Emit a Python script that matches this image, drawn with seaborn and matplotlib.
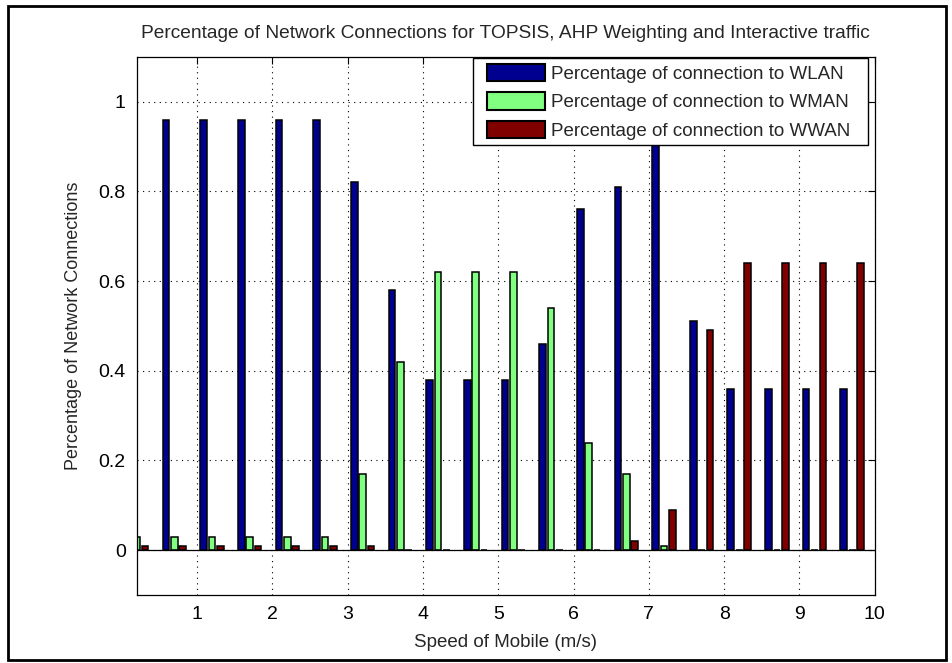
import matplotlib
matplotlib.use("Agg")
import matplotlib.pyplot as plt
from matplotlib.patches import Rectangle
from matplotlib.legend_handler import HandlerPatch
from matplotlib.ticker import FixedLocator, FuncFormatter
import pandas as pd
import seaborn as sns

# ---- data -------------------------------------------------------------
speed = [0.2, 0.7, 1.2, 1.7, 2.2, 2.7, 3.2, 3.7, 4.2, 4.7,
         5.2, 5.7, 6.2, 6.7, 7.2, 7.7, 8.2, 8.7, 9.2, 9.7]
wlan = [0.96, 0.96, 0.96, 0.96, 0.96, 0.96, 0.82, 0.58, 0.38, 0.38,
        0.38, 0.46, 0.76, 0.81, 0.93, 0.51, 0.36, 0.36, 0.36, 0.36]
wman = [0.03, 0.03, 0.03, 0.03, 0.03, 0.03, 0.17, 0.42, 0.62, 0.62,
        0.62, 0.54, 0.24, 0.17, 0.01, 0.0, 0.0, 0.0, 0.0, 0.0]
wwan = [0.01, 0.01, 0.01, 0.01, 0.01, 0.01, 0.01, 0.0, 0.0, 0.0,
        0.0, 0.0, 0.0, 0.02, 0.09, 0.49, 0.64, 0.64, 0.64, 0.64]

series_names = ["Percentage of connection to WLAN",
                "Percentage of connection to WMAN",
                "Percentage of connection to WWAN"]
series_colors = ["#000090", "#80FF80", "#800000"]

x_ticks = [1, 2, 3, 4, 5, 6, 7, 8, 9, 10]
y_ticks = [0, 0.2, 0.4, 0.6, 0.8, 1.0]

title = "Percentage of Network Connections for TOPSIS, AHP Weighting and Interactive traffic"
x_label = "Speed of Mobile (m/s)"
y_label = "Percentage of Network Connections"

# ---- long-form table --------------------------------------------------
df = pd.concat([
    pd.DataFrame({"speed": speed, "value": vals, "network": name})
    for name, vals in zip(series_names, [wlan, wman, wwan])
], ignore_index=True)

# ---- style ------------------------------------------------------------
sns.set_style("white")
plt.rcParams["font.family"] = ["Liberation Sans", "DejaVu Sans"]

fig = plt.figure(figsize=(9.53, 6.63), dpi=100)
fig.patch.set_facecolor("white")
ax = fig.add_axes([0.1435, 0.1026, 0.7744, 0.8115])

sns.barplot(data=df, x="speed", y="value", hue="network",
            hue_order=series_names, palette=series_colors,
            native_scale=True, width=0.667, gap=0.2,
            edgecolor="black", linewidth=1.1, saturation=1,
            errorbar=None, ax=ax)

# bar baseline
ax.axhline(0, color="black", lw=0.9, zorder=3)

ax.set_xlim(0.2, 10)
ax.set_ylim(-0.1, 1.1)
ax.xaxis.set_major_locator(FixedLocator(x_ticks))
ax.yaxis.set_major_locator(FixedLocator(y_ticks))
ax.xaxis.set_major_formatter(FuncFormatter(lambda v, p: f"{v:g}"))
ax.yaxis.set_major_formatter(FuncFormatter(lambda v, p: f"{v:g}"))

ax.set_axisbelow(True)
ax.grid(True, color="black", linestyle=(0, (1, 4)), linewidth=0.8)

for s in ax.spines.values():
    s.set_visible(True)
    s.set_color("black")
    s.set_linewidth(0.9)

ax.tick_params(axis="both", which="both", direction="in", length=5, width=0.8,
               top=True, right=True, labelsize=14, pad=8, colors="black")

ax.set_title(title, fontsize=13.8, pad=14)
ax.set_xlabel(x_label, fontsize=13.5, labelpad=8)
ax.set_ylabel(y_label, fontsize=13, labelpad=12)


# legend swatches, inset a little from the left edge of the box
def swatch(legend, orig_handle, xdescent, ydescent, width, height, fontsize):
    inset = 6
    return Rectangle((-xdescent + inset, -ydescent), width - inset, height)


handles, labels = ax.get_legend_handles_labels()
leg = ax.legend(handles, labels, loc="upper left", mode="expand",
                bbox_to_anchor=(0.4556, 0.0, 0.5352, 0.998), fontsize=13.5,
                frameon=True, fancybox=False, framealpha=1,
                edgecolor="black", handlelength=3.55, handleheight=1.05,
                handletextpad=0.3, labelspacing=0.5, borderpad=0.3,
                borderaxespad=0.0,
                handler_map={type(handles[0]): HandlerPatch(patch_func=swatch)})
leg.get_frame().set_linewidth(1.0)
for h in leg.legend_handles:
    h.set_edgecolor("black")
    h.set_linewidth(1.5)

# outer frame around the whole figure
fig.patches.append(Rectangle((8 / 953, 3 / 663), 938 / 953, 654 / 663,
                             transform=fig.transFigure, fill=False,
                             edgecolor="black", linewidth=2))

fig.savefig("out.png", dpi=100, facecolor="white")
